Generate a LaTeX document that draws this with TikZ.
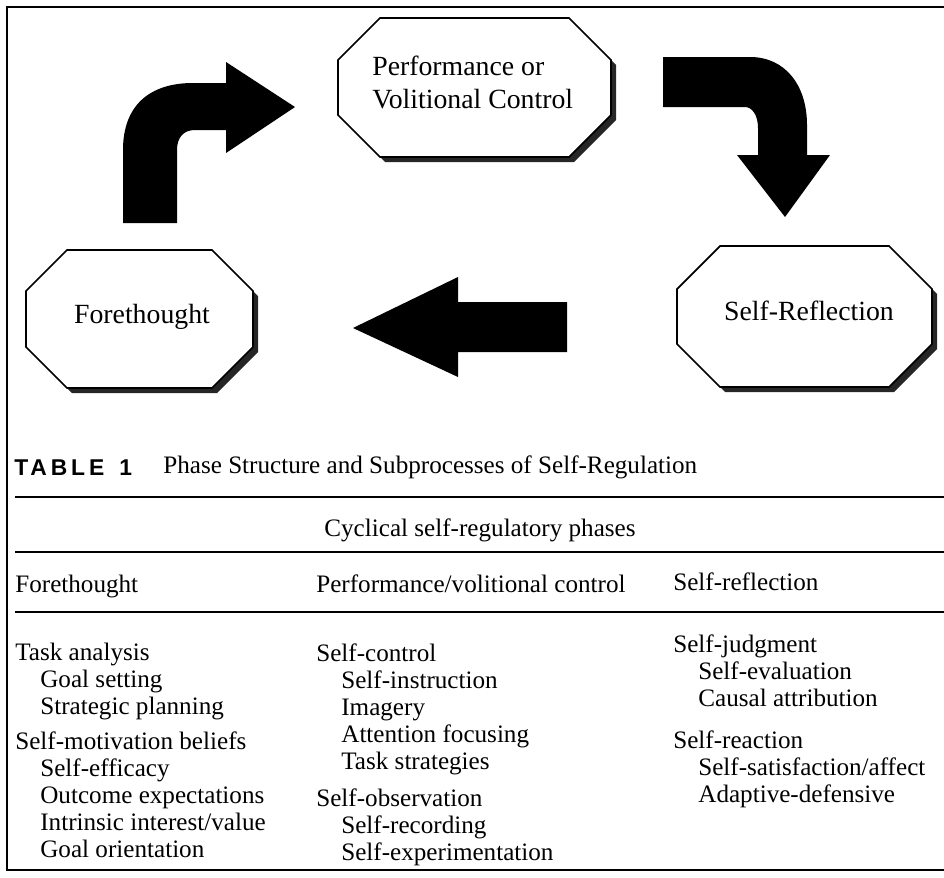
\documentclass[tikz,border=0pt]{standalone}
\usepackage{fontspec}
\setmainfont{Liberation Serif}
\newfontfamily\tablabelfont[LetterSpace=17]{Liberation Sans Bold}
\usetikzlibrary{shadows}

% one phase octagon: left, top, right, bottom, chamfer
\newcommand{\octa}[5]{%
  \path[phase] ({#1+#5},#2) -- ({#3-#5},#2) -- (#3,{#2+#5}) -- (#3,{#4-#5})
    -- ({#3-#5},#4) -- ({#1+#5},#4) -- (#1,{#4-#5}) -- (#1,{#2+#5}) -- cycle;}
\newcommand{\ind}{\hspace*{5mm}}

\begin{document}
\begin{tikzpicture}[x=0.2mm,y=-0.2mm,
    phase/.style={draw,line width=0.35mm,fill=white,
      drop shadow={shadow xshift=1mm,shadow yshift=-1mm,fill=black!85,opacity=1}},
    phasetext/.style={inner sep=0pt,font=\fontsize{15.8}{18.7}\selectfont},
    bigarrow/.style={fill=black},
    rule/.style={line width=0.55mm},
    entry/.style={anchor=base west,inner sep=0pt,align=left,
      font=\fontsize{14.3}{15.3}\selectfont}]

\useasboundingbox (0,0) rectangle (944,877);
\draw[line width=0.5mm] (944,7) -- (7,7) -- (7,870) -- (944,870);

% the three phases
\octa{338}{18}{611}{157}{42}
\octa{26}{250}{253}{388}{41}
\octa{677}{246}{932}{387}{43}
% (base of a several-line node = its last line)
\node[phasetext,anchor=base west,align=left] (perf) at (372,108) {Performance or\\Volitional Control};
\node[phasetext,anchor=base] (fore) at (142,323) {Forethought};
\node[phasetext,anchor=base] (refl) at (809,320) {Self-Reflection};

% block arrows of the cycle
\fill[bigarrow] (123,223) -- (123,150) .. controls (123,105) and (150,83) .. (193,83)
    -- (226,83) -- (226,62) -- (295,107) -- (226,153) -- (226,130) -- (195,130)
    .. controls (184,130) and (177,137) .. (177,150) -- (177,223) -- cycle;
\fill[bigarrow] (663,57) -- (750,57) .. controls (785,57) and (807,85) .. (807,125)
    -- (807,155) -- (830,155) -- (785,217) -- (737,155) -- (758,155) -- (758,128)
    .. controls (758,115) and (752,107) .. (745,107) -- (663,107) -- cycle;
\fill[bigarrow] (567,302) -- (458,302) -- (458,277) -- (353,328) -- (458,377)
    -- (458,352) -- (567,352) -- cycle;

% table
\node[anchor=base west,inner sep=0pt,font=\tablabelfont\fontsize{13}{15}\selectfont]
    (tabno) at (14,475) {TABLE\hspace{3mm}1};
\node[entry] (title) at (163,473) {Phase Structure and Subprocesses of Self-Regulation};
\draw[rule] (15,497) -- (944,497);
\node[entry,anchor=base] (cyc) at (480,536) {Cyclical self-regulatory phases};
\draw[rule] (15,552) -- (944,552);
\node[entry] (h1) at (15,592) {Forethought};
\node[entry] (h2) at (316,592) {Performance/volitional control};
\node[entry] (h3) at (673,590) {Self-reflection};
\draw[rule] (15,612) -- (944,612);

\node[entry] (fa) at (15,714) {Task analysis\\ \ind Goal setting\\ \ind Strategic planning};
\node[entry] (fb) at (15,857) {Self-motivation beliefs\\ \ind Self-efficacy\\
    \ind Outcome expectations\\ \ind Intrinsic interest/value\\ \ind Goal orientation};
\node[entry] (pa) at (316,769) {Self-control\\ \ind Self-instruction\\ \ind Imagery\\
    \ind Attention focusing\\ \ind Task strategies};
\node[entry] (pb) at (316,860) {Self-observation\\ \ind Self-recording\\
    \ind Self-experimentation};
\node[entry] (ra) at (673,706) {Self-judgment\\ \ind Self-evaluation\\ \ind Causal attribution};
\node[entry] (rb) at (673,802) {Self-reaction\\ \ind Self-satisfaction/affect\\
    \ind Adaptive-defensive};

\end{tikzpicture}
\end{document}
